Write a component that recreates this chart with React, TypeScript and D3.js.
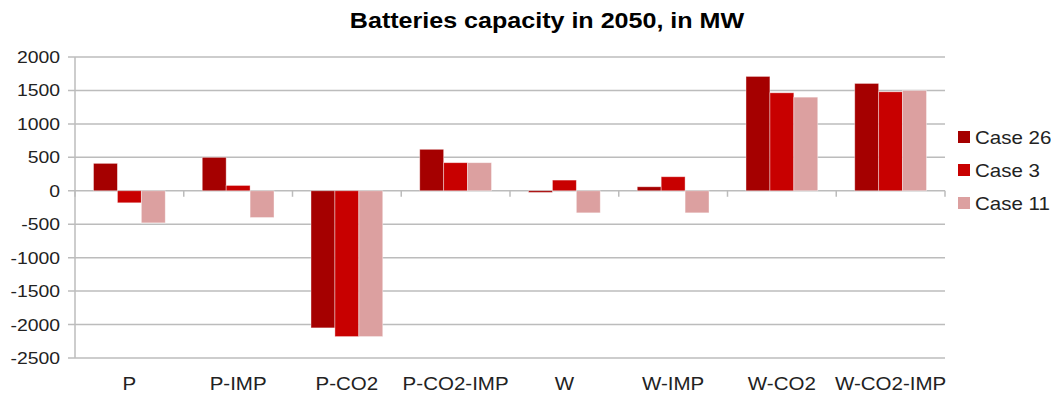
import React, { useEffect, useRef } from 'react';
import * as d3 from 'd3';

const categories = ['P', 'P-IMP', 'P-CO2', 'P-CO2-IMP', 'W', 'W-IMP', 'W-CO2', 'W-CO2-IMP'];
const seriesNames = ['Case 26', 'Case 3', 'Case 11'];
const case26 = [410, 500, -2050, 620, -25, 60, 1710, 1605];
const case3 = [-180, 80, -2180, 420, 160, 210, 1465, 1480];
const case11 = [-480, -400, -2180, 420, -330, -330, 1400, 1500];
const yTicks = [2000, 1500, 1000, 500, 0, -500, -1000, -1500, -2000, -2500];
const colors = ['#a50000', '#c80000', '#dca0a0'];

export default function App() {
  const svgRef = useRef<SVGSVGElement>(null);

  useEffect(() => {
    if (!svgRef.current) return;
    const svg = d3.select(svgRef.current);
    svg.selectAll('*').remove();

    const W = 1051;
    const H = 396;
    const margin = { top: 57, right: 106, bottom: 38, left: 75 };
    const width = W - margin.left - margin.right;
    const height = H - margin.top - margin.bottom;
    const font = 'Liberation Sans, Arial, sans-serif';
    const sx = 1.14; // the original text is a little wider than Arial

    svg.attr('width', W).attr('height', H);

    // text helper: stretched horizontally around its anchor point
    const addText = (
      parent: d3.Selection<any, any, any, any>,
      tx: number,
      ty: number,
      label: string,
      size: number,
      anchor: string,
      bold = false
    ) =>
      parent
        .append('text')
        .attr('transform', `translate(${tx},${ty}) scale(${sx},1)`)
        .attr('text-anchor', anchor)
        .style('font-family', font)
        .style('font-size', `${size}px`)
        .style('font-weight', bold ? 'bold' : 'normal')
        .style('fill', bold ? '#000' : '#222')
        .text(label);

    const series = [case26, case3, case11];

    const x = d3.scaleBand().domain(categories).range([0, width]).paddingInner(0).paddingOuter(0);
    const groupW = x.bandwidth() * 0.66;
    const x1 = d3
      .scaleBand()
      .domain(seriesNames)
      .range([(x.bandwidth() - groupW) / 2, (x.bandwidth() + groupW) / 2]);
    const y = d3.scaleLinear().domain([-2500, 2000]).range([height, 0]);

    const g = svg.append('g').attr('transform', `translate(${margin.left},${margin.top})`);

    // Title
    addText(svg, 547, 28, 'Batteries capacity in 2050, in MW', 22, 'middle', true);

    // Grid lines
    g.selectAll('.grid')
      .data(yTicks)
      .enter()
      .append('line')
      .attr('x1', -7)
      .attr('x2', width)
      .attr('y1', (d) => y(d))
      .attr('y2', (d) => y(d))
      .attr('stroke', '#bcbcbc')
      .attr('stroke-width', 1.5);

    // Y axis line
    g.append('line')
      .attr('x1', 0)
      .attr('x2', 0)
      .attr('y1', 0)
      .attr('y2', height)
      .attr('stroke', '#bcbcbc')
      .attr('stroke-width', 1.5);

    // Y tick labels
    yTicks.forEach((t) => addText(g, -15, y(t) + 6, String(t), 17, 'end'));

    // Category ticks on zero line
    const bounds = d3.range(categories.length + 1).map((i) => i * x.step());
    g.selectAll('.xtick')
      .data(bounds)
      .enter()
      .append('line')
      .attr('x1', (d) => d)
      .attr('x2', (d) => d)
      .attr('y1', y(0))
      .attr('y2', y(0) + 6)
      .attr('stroke', '#bcbcbc')
      .attr('stroke-width', 1.5);

    // Bars
    const groups = g
      .selectAll('.cat')
      .data(categories)
      .enter()
      .append('g')
      .attr('transform', (d) => `translate(${x(d)},0)`);

    groups
      .selectAll('rect')
      .data((_, i) => series.map((s, j) => ({ name: seriesNames[j], value: s[i], color: colors[j] })))
      .enter()
      .append('rect')
      .attr('x', (d) => x1(d.name)!)
      .attr('width', x1.bandwidth())
      .attr('y', (d) => Math.min(y(d.value), y(0)))
      .attr('height', (d) => Math.abs(y(d.value) - y(0)))
      .attr('fill', (d) => d.color)
      .attr('stroke', 'rgba(255,255,255,0.5)')
      .attr('stroke-width', 0.8);

    // Category labels
    categories.forEach((c) => addText(g, x(c)! + x.bandwidth() / 2, height + 32, c, 18, 'middle'));

    // Legend
    const legend = svg.append('g').attr('transform', 'translate(958,137)');
    seriesNames.forEach((name, i) => {
      legend
        .append('rect')
        .attr('x', 0)
        .attr('y', i * 33 - 6)
        .attr('width', 12)
        .attr('height', 12)
        .attr('fill', colors[i]);
      addText(legend, 17, i * 33 + 6.5, name, 18, 'start');
    });
  }, []);

  return (
    <div style={{ position: 'absolute', left: 0, top: 0 }}>
      <svg ref={svgRef}></svg>
    </div>
  );
}
